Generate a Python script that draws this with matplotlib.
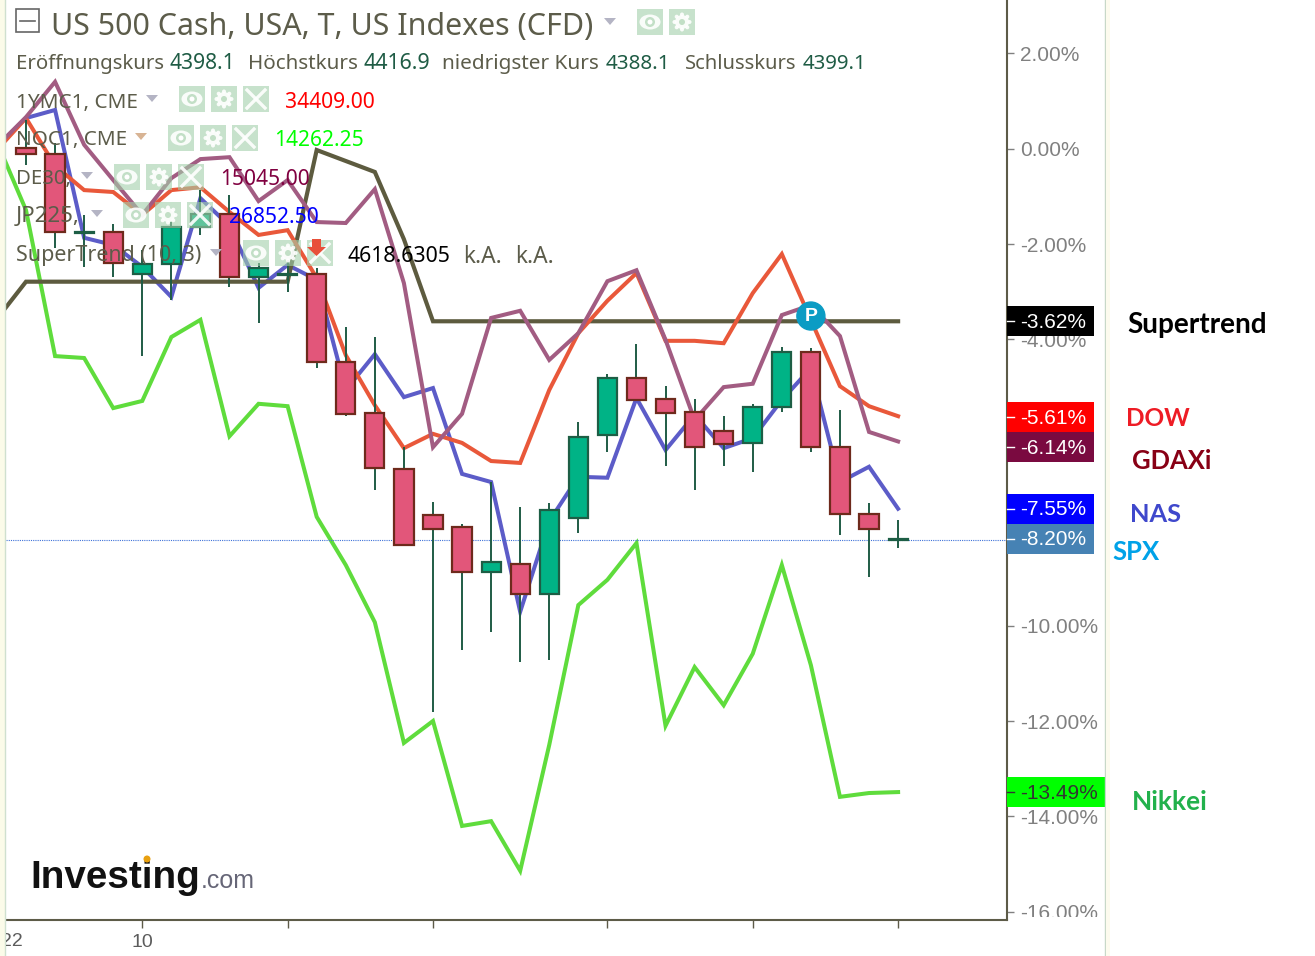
import numpy as np
import matplotlib
matplotlib.use('Agg')
import matplotlib.pyplot as plt
from matplotlib.patches import Rectangle, Circle, Ellipse, Polygon
from matplotlib.transforms import Bbox

# percent change series, first value is the bar just left of the visible window
line_x = list(range(-1, 31))
dow = [-0.03, 0.64, -0.36, -0.87, -0.91, -1.39, -0.87, -0.81, -1.33, -1.81, -1.71, -2.71, -4.33, -5.38, -6.28, -5.98,
       -6.17, -6.55, -6.59, -5.06, -3.87, -3.19, -2.61, -4.03, -4.03, -4.08, -3.03, -2.21, -3.59, -4.98, -5.40, -5.61]
gdaxi = [0.05, 0.66, 1.40, 0.08, -0.66, -1.39, -0.62, -0.22, -0.18, -1.10, -0.66, -1.54, -1.56, -0.85, -2.82, -6.26,
         -5.56, -3.55, -3.40, -4.43, -3.87, -2.78, -2.55, -4.01, -5.69, -5.00, -4.93, -3.49, -3.28, -3.93, -5.94, -6.14]
nas = [0.05, 0.64, 0.81, -1.87, -2.02, -2.48, -3.11, -1.04, -1.62, -2.92, -2.44, -2.75, -5.06, -4.31, -5.21, -5.02,
       -6.82, -6.99, -9.71, -7.81, -6.88, -6.90, -5.23, -6.32, -5.58, -6.28, -6.07, -5.27, -4.60, -6.99, -6.67, -7.55]
nikkei = [0.14, -1.29, -4.35, -4.39, -5.44, -5.29, -3.95, -3.59, -6.03, -5.35, -5.40, -7.72, -8.73, -9.93, -12.46, -12.00,
          -14.20, -14.10, -15.14, -12.50, -9.57, -9.04, -8.27, -12.10, -10.87, -11.67, -10.59, -8.73, -10.83, -13.59, -13.51, -13.49]
supertrend = [-3.57, -2.79, -2.79, -2.79, -2.79, -2.79, -2.79, -2.79, -2.79, -2.79, -2.79, -0.03, -0.26, -0.49, -1.90, -3.62,
              -3.62, -3.62, -3.62, -3.62, -3.62, -3.62, -3.62, -3.62, -3.62, -3.62, -3.62, -3.62, -3.62, -3.62, -3.62, -3.62]

# US 500 candles, percent
opens = [0.01, -0.11, -1.77, -1.75, -2.63, -2.42, -1.64, -1.37, -2.69, -2.65, -2.63, -4.47, -5.54, -6.72, -7.68, -7.93,
         -8.88, -8.71, -9.34, -7.74, -6.00, -4.81, -5.25, -5.52, -5.92, -6.17, -5.42, -4.26, -6.26, -7.66, -8.20]
highs = [0.60, 0.12, -1.39, -1.58, -2.13, -1.54, -0.87, -0.97, -2.40, -2.34, -2.50, -3.74, -3.95, -6.26, -7.41, -7.87,
         -6.99, -7.51, -7.43, -5.73, -4.72, -4.10, -4.98, -5.25, -5.61, -5.35, -4.16, -4.18, -5.48, -7.43, -7.79]
lows = [-0.34, -2.08, -2.48, -2.69, -4.35, -3.17, -1.81, -2.90, -3.66, -3.01, -4.60, -5.61, -7.16, -8.33, -11.81, -10.51,
        -10.13, -10.76, -10.72, -8.06, -6.36, -5.27, -6.65, -7.16, -6.65, -6.78, -5.52, -6.36, -8.10, -8.98, -8.37]
closes = [-0.11, -1.75, -1.75, -2.40, -2.42, -1.64, -1.37, -2.69, -2.50, -2.63, -4.47, -5.56, -6.70, -8.31, -7.97, -8.88,
          -8.67, -9.34, -7.58, -6.05, -4.81, -5.27, -5.54, -6.26, -6.19, -5.42, -4.26, -6.26, -7.66, -7.97, -8.19]

# -6 and -8 sit behind the last value boxes in the original, so no text there
y_ticks = [2, 0, -2, -4, -6, -8, -10, -12, -14, -16]
y_ticklabels = ['2.00%', '0.00%', '-2.00%', '-4.00%', '', '', '-10.00%', '-12.00%', '-14.00%', '-16.00%']
x_ticks = [4, 9, 14, 20, 25, 30]
x_ticklabels = ['10', '', '', '', '', '']

last_names = ['Supertrend', 'DOW', 'GDAXi', 'NAS', 'SPX', 'Nikkei']
last_values = [-3.62, -5.61, -6.14, -7.55, -8.20, -13.49]
spx_last = -8.20
pivot_bar = 27
pivot_value = -3.51

W, H = 1315, 956
BEAR, BEAR_EDGE = '#e2567a', '#6e2a1c'
BULL, BULL_EDGE = '#00b386', '#1d5e45'
GREY = '#5c5c4a'
NUM = '#1f5c45'
ICON = '#a2d0aa'

plt.rcParams['font.family'] = ['Liberation Sans', 'DejaVu Sans']
fig = plt.figure(figsize=(W / 100, H / 100), dpi=100)
ax = fig.add_axes([6 / W, 1 - 920 / H, 1001 / W, 920 / H])

ax.plot(line_x, nikkei, color='#5fdc3c', lw=2.9, zorder=2, solid_joinstyle='miter')
ax.plot(line_x, nas, color='#5c5cc8', lw=2.9, zorder=2.1, solid_joinstyle='miter')
ax.plot(line_x, supertrend, color='#5d5b3f', lw=3.0, zorder=2.2, solid_joinstyle='miter')
ax.plot(line_x, dow, color='#e9583a', lw=2.9, zorder=2.3, solid_joinstyle='miter')
ax.plot(line_x, gdaxi, color='#a25c82', lw=2.9, zorder=2.4, solid_joinstyle='miter')

bars = np.arange(len(opens))
colors = [BULL if c > o else BEAR for o, c in zip(opens, closes)]
edges = [BULL_EDGE if c > o else BEAR_EDGE for o, c in zip(opens, closes)]
ax.vlines(bars, lows, highs, color='#1f5c45', lw=1.4, zorder=3)
ax.bar(bars, np.array(closes) - np.array(opens), bottom=opens, width=0.66, color=colors, edgecolor=edges, lw=1.6, zorder=4)

ax.axhline(spx_last, color='#3f72d8', lw=0.8, ls=(0, (1, 1)), zorder=2.5)
ax.add_patch(Ellipse((pivot_bar, pivot_value), 28 / 29.07, 28 / 47.7, color='#0b9cc4', zorder=6))
ax.text(pivot_bar, pivot_value, 'P', color='white', fontsize=14, fontweight='bold', ha='center', va='center', zorder=7)

ax.set_xlim((6 - 26) / 29.07, (1007 - 26) / 29.07)
ax.set_ylim(-(920 - 148.6) / 47.7, 148.6 / 47.7)
ax.spines['top'].set_visible(False)
ax.spines['left'].set_visible(False)
ax.spines['right'].set_color('#5d5b48')
ax.spines['bottom'].set_color('#5d5b48')
ax.spines['right'].set_linewidth(1.5)
ax.spines['bottom'].set_linewidth(1.5)
ax.yaxis.tick_right()
ax.set_yticks(y_ticks)
ax.set_yticklabels(y_ticklabels)
ax.set_xticks(x_ticks)
ax.set_xticklabels(x_ticklabels)
ax.tick_params(axis='y', length=5, width=1, color='#808080', labelcolor='#808080', labelsize=15, pad=4.5)
ax.tick_params(axis='x', length=6, width=1, color='#5d5b48', labelcolor='#5c5c5c', labelsize=14, pad=4)

# coloured last value boxes on the price scale, the gdaxi one is pushed down
# by the chart so it does not overlap the dow one
box_centers = [-3.62, -5.63, -6.26, -7.55, -8.18, -13.49]
box_colors = ['#000000', '#ff0000', '#7a0a40', '#0000ff', '#4682b4', '#00ff00']
box_widths = [87, 87, 87, 87, 87, 98]
text_colors = ['white', 'white', 'white', 'white', 'white', '#333333']
ytrans = ax.get_yaxis_transform()
for v, yc, c, w, tc in zip(last_values, box_centers, box_colors, box_widths, text_colors):
    ax.add_patch(Rectangle((1, yc - 15 / 47.7), w / 1001, 30 / 47.7, transform=ytrans, color=c, clip_on=False, zorder=8, lw=0))
    ax.plot([1, 1 + 7 / 1001], [yc, yc], transform=ytrans, color=tc, lw=1, clip_on=False, zorder=9)
    ax.text(1 + 13 / 1001, yc - 1 / 47.7, '%.2f%%' % v, transform=ytrans, color=tc, fontsize=15, va='center', ha='left', zorder=9)

# everything else sits in screen position on top of the chart
ov = fig.add_axes([0, 0, 1, 1])
ov.set_xlim(0, W)
ov.set_ylim(H, 0)
ov.axis('off')
renderer = fig.canvas.get_renderer()


def put(x, y, s, width=None, color=GREY, size=16, family='Noto Sans', weight='normal'):
    t = ov.text(x, y, s, color=color, fontsize=size, family=family, fontweight=weight, ha='left', va='center_baseline', zorder=10)
    if width:
        t.set_fontsize(size * width / t.get_window_extent(renderer).width)
    return t


def triangle(x, y, color='#b4b4c4'):
    ov.add_patch(Polygon([(x - 6, y - 3), (x + 6, y - 3), (x, y + 4)], color=color, lw=0, zorder=10))


def eye_icon(x, y):
    ov.add_patch(Rectangle((x, y - 13), 26, 26, color=ICON, alpha=0.6, lw=0, zorder=9))
    ov.add_patch(Ellipse((x + 13, y), 21, 15, color='white', alpha=0.9, lw=0, zorder=10))
    ov.add_patch(Circle((x + 13, y), 5, color='#c2dfc6', lw=0, zorder=11))
    ov.add_patch(Circle((x + 13, y), 2.5, color='white', lw=0, zorder=12))


def gear_icon(x, y):
    ov.add_patch(Rectangle((x, y - 13), 26, 26, color=ICON, alpha=0.6, lw=0, zorder=9))
    ov.add_patch(Circle((x + 13, y), 7, color='white', alpha=0.9, lw=0, zorder=10))
    for a in np.arange(0, 2 * np.pi, np.pi / 4):
        ov.add_patch(Circle((x + 13 + 7.5 * np.cos(a), y + 7.5 * np.sin(a)), 2, color='white', alpha=0.9, lw=0, zorder=10))
    ov.add_patch(Circle((x + 13, y), 3, color='#c2dfc6', lw=0, zorder=11))


def cross_icon(x, y):
    ov.add_patch(Rectangle((x, y - 13), 26, 26, color=ICON, alpha=0.6, lw=0, zorder=9))
    ov.plot([x + 4, x + 22], [y - 9, y + 9], color='white', lw=2.4, alpha=0.9, zorder=10)
    ov.plot([x + 4, x + 22], [y + 9, y - 9], color='white', lw=2.4, alpha=0.9, zorder=10)


def icon_row(x, y):
    eye_icon(x, y)
    gear_icon(x + 32, y)
    cross_icon(x + 64, y)


# page edges and the cut off labels
ov.add_patch(Rectangle((0, 0), 5, H, color='#fbfbe9', lw=0, zorder=1))
ov.plot([5, 5], [0, H], color='#cfe0cf', lw=1, zorder=1)
ov.plot([1105.5, 1105.5], [0, H], color='#c8d8c8', lw=1, zorder=1)
ov.add_patch(Rectangle((1106, 0), 4, H, color='#fdfbee', lw=0, zorder=1))
ov.add_patch(Rectangle((1015, 917), 88, 20, color='white', lw=0, zorder=2))
cut = ov.text(12, 941, '22', color='#5c5c5c', fontsize=14, ha='center', va='center', zorder=10)
cut.set_clip_box(Bbox([[6, 0], [40, H]]))
cut.set_clip_on(True)

# header
ov.add_patch(Rectangle((16, 9), 23, 23, fill=False, edgecolor='#666666', lw=1.2, zorder=10))
ov.plot([20, 35], [20.5, 20.5], color='#666666', lw=1.2, zorder=10)
put(51, 23, 'US 500 Cash, USA, T, US Indexes (CFD)', width=542, size=20)
triangle(610, 21)
eye_icon(637, 22)
gear_icon(669, 22)

row = [(16, 'Eröffnungskurs', 148, GREY), (170, '4398.1', 66, NUM), (248, 'Höchstkurs', 110, GREY), (364, '4416.9', 67, NUM),
       (442, 'niedrigster Kurs', 157, GREY), (606, '4388.1', 65, NUM), (685, 'Schlusskurs', 111, GREY), (803, '4399.1', 64, NUM)]
for x, s, w, c in row:
    put(x, 61, s, width=w, color=c)

put(16, 100, '1YMC1, CME', width=122)
triangle(152, 98)
icon_row(179, 99)
put(285, 100, '34409.00', width=90, color='#ff0000')

put(16, 137, 'NQC1, CME', width=111)
triangle(141, 136, '#d8b494')
icon_row(168, 138)
put(274, 138, '14262.25', width=90, color='#00ff00')

put(16, 176, 'DE30,', width=55)
triangle(87, 175)
icon_row(114, 177)
put(220, 177, '15045.00', width=90, color='#800040')

put(16, 214, 'JP225,', width=64)
triangle(97, 213)
icon_row(123, 215)
put(229, 215, '26852.50', width=90, color='#0000ff')

put(16, 253, 'SuperTrend (10, 3)', width=185)
triangle(216, 252)
icon_row(243, 253)
ov.add_patch(Polygon([(312, 239), (321, 239), (321, 247), (326, 247), (316.5, 256), (307, 247), (312, 247)], color='#e8503a', lw=0, zorder=13))
put(348, 254, '4618.6305', width=103, color='#000000')
put(463, 254, 'k.A.', width=39)
put(515, 254, 'k.A.', width=39)

# names next to the price scale
name_x = [1127, 1126, 1132, 1130, 1112, 1132]
name_y = [323, 417, 459, 513, 550, 800]
name_w = [139, 64, 80, 51, 47, 76]
name_c = ['#000000', '#ee1c25', '#880015', '#3f48cc', '#00a2e8', '#22b14c']
for n, x, y, w, c in zip(last_names, name_x, name_y, name_w, name_c):
    put(x, y, n, width=w, color=c, size=18, family='Lato', weight='bold')

# logo
put(30, 874, 'Investing', width=170, color='#111111', size=26, family='Liberation Sans', weight='bold')
put(201, 879, '.com', width=54, color='#666677', size=18, family='Liberation Sans')
ov.add_patch(Circle((147, 859), 3.5, color='#e8a010', lw=0, zorder=11))

fig.savefig('out.png', dpi=100)
